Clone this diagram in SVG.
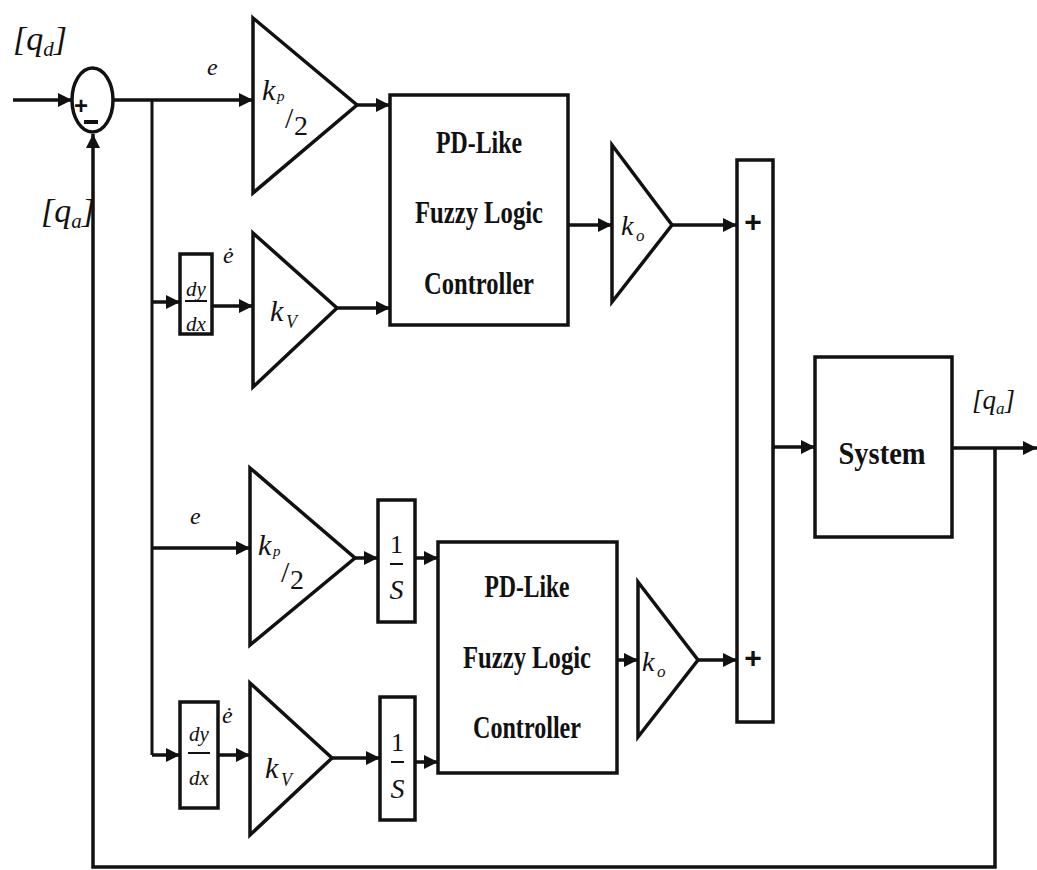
<svg xmlns="http://www.w3.org/2000/svg" width="1037" height="870" viewBox="0 0 1037 870">
<style>
.blk{fill:#fff;stroke:#111;stroke-width:3.5}
.ln{fill:none;stroke:#111;stroke-width:3}
.ar{fill:none;stroke:#111;stroke-width:3.5;marker-end:url(#ah)}
.bt{font-family:"Liberation Serif",serif;font-weight:bold;font-size:31px;fill:#111;text-anchor:middle}
.mi{font-family:"Liberation Serif",serif;font-style:italic;fill:#111}
.mr{font-family:"Liberation Serif",serif;fill:#111}
.sg{font-family:"Liberation Sans",sans-serif;font-weight:bold;fill:#111;text-anchor:middle}
</style>
<defs>
<marker id="ah" viewBox="0 0 10 10" refX="10" refY="5" markerWidth="15" markerHeight="14" markerUnits="userSpaceOnUse" orient="auto">
<path d="M0,0 L10,5 L0,10 z" fill="#111"/>
</marker>
</defs>
<rect width="1037" height="870" fill="#fff"/>

<g id="connectors">
<path class="ar" d="M13,100 H72"/>
<path class="ar" d="M113,100 H253"/>
<path class="ln" d="M152,100 V755"/>
<path class="ar" d="M152,302 H180"/>
<path class="ar" d="M212,306 H253"/>
<path class="ar" d="M357,105 H390"/>
<path class="ar" d="M337,308 H390"/>
<path class="ar" d="M568,225 H612"/>
<path class="ar" d="M672,225 H737"/>
<path class="ar" d="M152,548 H250"/>
<path class="ar" d="M355,558 H378"/>
<path class="ar" d="M415,558 H438"/>
<path class="ar" d="M152,755 H180"/>
<path class="ar" d="M218,755 H250"/>
<path class="ar" d="M332,758 H380"/>
<path class="ar" d="M415,762 H438"/>
<path class="ar" d="M617,660 H638"/>
<path class="ar" d="M698,660 H737"/>
<path class="ar" d="M773,447 H815"/>
<path class="ar" d="M952,448 H1037"/>
<path class="ar" d="M995,448 V867 H93 V134"/>
</g>

<g id="sum1">
<ellipse class="blk" cx="92.5" cy="100" rx="20.5" ry="32"/>
<text class="sg" x="81" y="114" font-size="24">+</text>
<rect x="84" y="120" width="14" height="4" fill="#111"/>
</g>

<g id="labels">
<text class="mi" x="13" y="50" font-size="34">[<tspan>q</tspan><tspan font-size="21" dy="6">d</tspan><tspan dy="-6">]</tspan></text>
<text class="mi" x="41" y="222" font-size="34">[<tspan>q</tspan><tspan font-size="21" dy="6">a</tspan><tspan dy="-6">]</tspan></text>
<text class="mi" x="972" y="409" font-size="27">[<tspan>q</tspan><tspan font-size="17" dy="5">a</tspan><tspan dy="-5">]</tspan></text>
<text class="mi" x="207" y="75" font-size="24">e</text>
<text class="mi" x="223" y="263" font-size="24">ė</text>
<text class="mi" x="190" y="524" font-size="24">e</text>
<text class="mi" x="222" y="723" font-size="24">ė</text>
</g>

<g id="kp1">
<polygon class="blk" points="253,18 357,105 253,193"/>
<text class="mi" x="262" y="100" font-size="30">k</text>
<text class="mi" x="277" y="101" font-size="15">p</text>
<text class="mr" x="285" y="128" font-size="30">/</text>
<text class="mr" x="294" y="135" font-size="28">2</text>
</g>

<g id="kv1">
<polygon class="blk" points="253,233 337,308 253,387"/>
<text class="mi" x="270" y="321" font-size="30">k</text>
<text class="mi" x="286" y="328" font-size="18">V</text>
</g>

<g id="ddx1">
<rect class="blk" x="180" y="254" width="32" height="80"/>
<text class="mi" x="196" y="296" font-size="21" text-anchor="middle">dy</text>
<line x1="185" y1="301" x2="207" y2="301" stroke="#111" stroke-width="2"/>
<text class="mi" x="196" y="331" font-size="21" text-anchor="middle">dx</text>
</g>

<g id="fuzzy1">
<rect class="blk" x="390" y="95" width="178" height="230"/>
<text class="bt" x="479" y="153" textLength="86" lengthAdjust="spacingAndGlyphs">PD-Like</text>
<text class="bt" x="479" y="223" textLength="128" lengthAdjust="spacingAndGlyphs">Fuzzy Logic</text>
<text class="bt" x="479" y="294" textLength="110" lengthAdjust="spacingAndGlyphs">Controller</text>
</g>

<g id="ko1">
<polygon class="blk" points="612,145 672,225 612,302"/>
<text class="mi" x="621" y="235" font-size="28">k</text>
<text class="mi" x="636" y="241" font-size="17">o</text>
</g>

<g id="kp2">
<polygon class="blk" points="250,468 355,558 250,645"/>
<text class="mi" x="258" y="555" font-size="30">k</text>
<text class="mi" x="273" y="556" font-size="15">p</text>
<text class="mr" x="281" y="582" font-size="30">/</text>
<text class="mr" x="290" y="589" font-size="28">2</text>
</g>

<g id="int1">
<rect class="blk" x="378" y="500" width="37" height="122"/>
<text class="mr" x="396.5" y="553" font-size="26" text-anchor="middle">1</text>
<line x1="390" y1="564" x2="403" y2="564" stroke="#111" stroke-width="2"/>
<text class="mi" x="396.5" y="599" font-size="28" text-anchor="middle">S</text>
</g>

<g id="ddx2">
<rect class="blk" x="180" y="702" width="38" height="106"/>
<text class="mi" x="199" y="741" font-size="21" text-anchor="middle">dy</text>
<line x1="188" y1="753" x2="210" y2="753" stroke="#111" stroke-width="2"/>
<text class="mi" x="199" y="785" font-size="21" text-anchor="middle">dx</text>
</g>

<g id="kv2">
<polygon class="blk" points="250,683 332,758 250,835"/>
<text class="mi" x="265" y="778" font-size="30">k</text>
<text class="mi" x="281" y="786" font-size="18">V</text>
</g>

<g id="int2">
<rect class="blk" x="380" y="697" width="35" height="123"/>
<text class="mr" x="397.5" y="751" font-size="26" text-anchor="middle">1</text>
<line x1="391" y1="762" x2="404" y2="762" stroke="#111" stroke-width="2"/>
<text class="mi" x="397.5" y="798" font-size="28" text-anchor="middle">S</text>
</g>

<g id="fuzzy2">
<rect class="blk" x="438" y="542" width="179" height="231"/>
<text class="bt" x="527" y="597" textLength="85" lengthAdjust="spacingAndGlyphs">PD-Like</text>
<text class="bt" x="527" y="668" textLength="128" lengthAdjust="spacingAndGlyphs">Fuzzy Logic</text>
<text class="bt" x="527" y="738" textLength="108" lengthAdjust="spacingAndGlyphs">Controller</text>
</g>

<g id="ko2">
<polygon class="blk" points="638,582 698,660 638,737"/>
<text class="mi" x="642" y="671" font-size="28">k</text>
<text class="mi" x="657" y="677" font-size="17">o</text>
</g>

<g id="sum2">
<rect class="blk" x="737" y="160" width="36" height="562"/>
<text class="sg" x="753" y="232" font-size="30">+</text>
<text class="sg" x="753" y="668" font-size="30">+</text>
</g>

<g id="system">
<rect class="blk" x="815" y="357" width="137" height="180"/>
<text class="bt" x="882" y="464" font-size="33" textLength="87" lengthAdjust="spacingAndGlyphs">System</text>
</g>
</svg>
